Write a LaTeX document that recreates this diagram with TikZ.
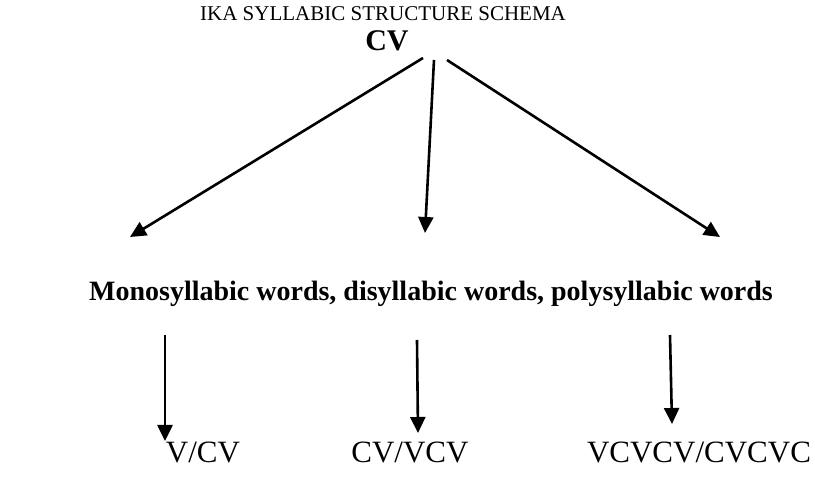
\documentclass[tikz,border=0pt]{standalone}
\usepackage{fontspec}
\setmainfont{Liberation Serif}
\usetikzlibrary{arrows.meta,positioning}

\tikzset{
  arr/.style={line width=2.6pt,-{Triangle[length=16pt,width=15pt]}},
  lbl/.style={anchor=base,inner sep=0pt,font=\fontsize{31}{36}\selectfont},
}

\begin{document}
\begin{tikzpicture}[x=1pt,y=-1pt]
\useasboundingbox (0,0) rectangle (815,478);
% heading and root
        \node[anchor=base,inner sep=0pt,font=\fontsize{21}{25}\selectfont] (title) at (383,21) {IKA SYLLABIC STRUCTURE SCHEMA};
        \node[anchor=base,inner sep=0pt,font=\fontsize{30}{35}\selectfont\bfseries] (cv) at (387,51) {CV};
        \node[lbl,font=\fontsize{28}{33}\selectfont\bfseries] (words) at (431,301) {Monosyllabic words, disyllabic words, polysyllabic words};
% patterns
        \foreach \n/\x/\t in {a/203/V\slash CV,b/410/CV\slash VCV,c/699/VCVCV\slash CVCVC} {
                \node[lbl] (\n) at (\x,463) {\t};
		}
% arrow ends
        \coordinate (ta) at (423,58);  \coordinate (ha) at (130,237);
        \coordinate (tb) at (434,60);  \coordinate (hb) at (425,233);
        \coordinate (tc) at (447,60);  \coordinate (hc) at (720,237);
        \coordinate (la) at (165,335); \coordinate (ka) at (165,441);
        \coordinate (lb) at (417,340); \coordinate (kb) at (418,433);
        \coordinate (lc) at (670,335); \coordinate (kc) at (672,424);
		\foreach \n in {a,b,c} {
		\draw [arr] (t\n) -- (h\n);
		\draw [arr] (l\n) -- (k\n);
		}
\end{tikzpicture}
\end{document}
